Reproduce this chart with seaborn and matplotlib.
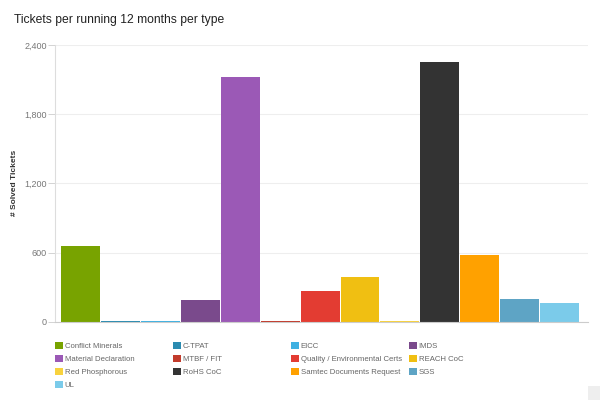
import matplotlib
matplotlib.use("Agg")
import matplotlib.pyplot as plt
import matplotlib.patches as mpatches
import seaborn as sns
import pandas as pd

categories = ["Conflict Minerals", "C-TPAT", "EICC", "IMDS", "Material Declaration",
              "MTBF / FIT", "Quality / Environmental Certs", "REACH CoC", "Red Phosphorous",
              "RoHS CoC", "Samtec Documents Request", "SGS", "UL"]
tickets = [657, 10, 8, 186, 2120, 10, 266, 388, 7, 2250, 579, 197, 165]
colors = ["#78a300", "#2b8bb0", "#3fb1e2", "#7a4a8c", "#9b59b6", "#c23b2c", "#e33c32",
          "#f0bf12", "#f8d23d", "#333333", "#ffa100", "#5ea4c5", "#7bcbea"]
y_ticks = [0, 600, 1200, 1800, 2400]

df = pd.DataFrame({"type": categories, "tickets": tickets})
palette = dict(zip(categories, colors))

sns.set_style("white")
plt.rcParams["font.family"] = ["Liberation Sans", "DejaVu Sans"]

fig = plt.figure(figsize=(6, 4.01), dpi=100)
ax = fig.add_axes([55 / 600, 79.3 / 401, 533 / 600, 276.7 / 401])

sns.barplot(data=df, x="type", y="tickets", hue="type", palette=palette,
            width=0.975, dodge=False, saturation=1, linewidth=0,
            legend=False, ax=ax)

ax.set_xlim(-0.65, 12.72)
ax.set_ylim(0, 2400)
ax.set_yticks(y_ticks)
ax.set_yticklabels([f"{v:,}" for v in y_ticks], fontsize=6.5, color="#777777")
ax.set_xticks([])
ax.set_xlabel("")
ax.set_ylabel("# Solved Tickets", fontsize=6, color="#333333", fontweight="bold")
ax.yaxis.set_label_coords((18 - 55) / 533, 0.5)
ax.tick_params(axis="y", length=5, width=0.6, color="#cccccc", pad=1, left=True)
ax.yaxis.grid(True, color="#eeeeee", linewidth=0.8)
ax.set_axisbelow(True)
for s in ["top", "right"]:
    ax.spines[s].set_visible(False)
ax.spines["left"].set_color("#dddddd")
ax.spines["left"].set_linewidth(0.8)
ax.spines["bottom"].set_color("#cccccc")
ax.spines["bottom"].set_linewidth(0.8)

fig.text(14 / 600, 1 - 20 / 401, "Tickets per running 12 months per type",
         fontsize=8.7, color="#222222", va="center", ha="left")

# legend: 4 fixed-width columns, filled row by row
col_x = [55, 173, 291, 409]
for c in range(4):
    idx = list(range(c, len(categories), 4))
    handles = [mpatches.Patch(facecolor=colors[i], edgecolor="none", label=categories[i]) for i in idx]
    fig.legend(handles=handles, loc="upper left",
               bbox_to_anchor=(col_x[c] / 600, 1 - 342 / 401),
               frameon=False, fontsize=5.6, handlelength=1.05, handleheight=1.05,
               handletextpad=0.2, labelspacing=0.6, borderpad=0, borderaxespad=0,
               labelcolor="#666666")

fig.patches.append(mpatches.Rectangle((588 / 600, 1 - 400 / 401), 12 / 600, 14 / 401,
                                      transform=fig.transFigure, facecolor="#eeeeee",
                                      edgecolor="none"))

fig.savefig("out.png", dpi=100)
